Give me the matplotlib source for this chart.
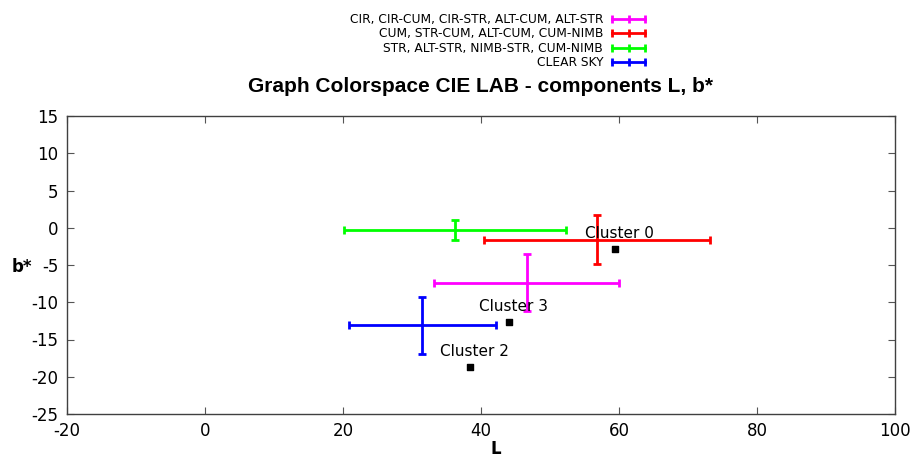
import matplotlib
matplotlib.use("Agg")
import matplotlib.pyplot as plt
from matplotlib.lines import Line2D

plt.rcParams['axes.unicode_minus'] = False

# Series: center (L, b*) with error ranges
labels = ["CIR, CIR-CUM, CIR-STR, ALT-CUM, ALT-STR",
          "CUM, STR-CUM, ALT-CUM, CUM-NIMB",
          "STR, ALT-STR, NIMB-STR, CUM-NIMB",
          "CLEAR SKY"]
colors = ["#ff00ff", "#ff0000", "#00ff00", "#0000ff"]
L_center = [46.7, 56.8, 36.2, 31.4]
L_low = [33.2, 40.4, 20.1, 20.9]
L_high = [60.0, 73.2, 52.3, 42.2]
b_center = [-7.4, -1.6, -0.3, -13.05]
b_low = [-11.2, -4.9, -1.6, -16.9]
b_high = [-3.5, 1.7, 1.0, -9.3]

cluster_names = ["Cluster 0", "Cluster 3", "Cluster 2"]
cluster_L = [59.4, 44.1, 38.4]
cluster_b = [-2.85, -12.65, -18.7]

xticks = [-20, 0, 20, 40, 60, 80, 100]
yticks = [15, 10, 5, 0, -5, -10, -15, -20, -25]

fig = plt.figure(figsize=(9.16, 4.57), dpi=100)
ax = fig.add_axes([67/916, 1 - 414/457, (895-67)/916, (414-116)/457])

for i in range(len(labels)):
    xerr = [[L_center[i] - L_low[i]], [L_high[i] - L_center[i]]]
    yerr = [[b_center[i] - b_low[i]], [b_high[i] - b_center[i]]]
    ax.errorbar([L_center[i]], [b_center[i]], xerr=xerr, yerr=yerr,
                fmt='none', ecolor=colors[i], elinewidth=2, capsize=3,
                capthick=2, zorder=3)

ax.scatter(cluster_L, cluster_b, marker='s', s=14, color='black', zorder=4)
for name, x, y in zip(cluster_names, cluster_L, cluster_b):
    ax.annotate(name, (x, y), xytext=(3, 5.5), textcoords='offset points',
                ha='center', va='bottom', fontsize=11, family='DejaVu Sans')

ax.set_xlim(-20, 100)
ax.set_ylim(-25, 15)
ax.set_xticks(xticks)
ax.set_yticks(yticks)
ax.tick_params(direction='in', length=5, width=0.8, color='#555555',
               labelsize=12, top=True, right=True, pad=6)
for s in ax.spines.values():
    s.set_color('#404040')
    s.set_linewidth(1.0)

ax.set_xlabel("L", fontsize=12, fontweight='bold')
ax.xaxis.set_label_coords((496-67)/828, -(440-414)/298)
ax.set_ylabel("b*", fontsize=12, fontweight='bold', rotation=0,
              va='center', ha='center')
ax.yaxis.set_label_coords(-(67-22)/828, (414-267)/298)

fig.text(481/916, 1 - 87/457, "Graph Colorspace CIE LAB - components L, b*",
         ha='center', va='center', fontsize=15, fontweight='bold',
         family='Liberation Sans')

handles = [Line2D([0], [0], color=c, lw=2, marker='|', markersize=6,
                  markeredgewidth=2) for c in colors]
fig.legend(handles, labels, loc='upper right',
           bbox_to_anchor=(649/916, 1 - 13/457), frameon=False,
           markerfirst=False, numpoints=3, fontsize=8.8,
           handlelength=3.3, handletextpad=0.45, labelspacing=0.12,
           borderpad=0, borderaxespad=0)

fig.savefig("out.png", dpi=100)
